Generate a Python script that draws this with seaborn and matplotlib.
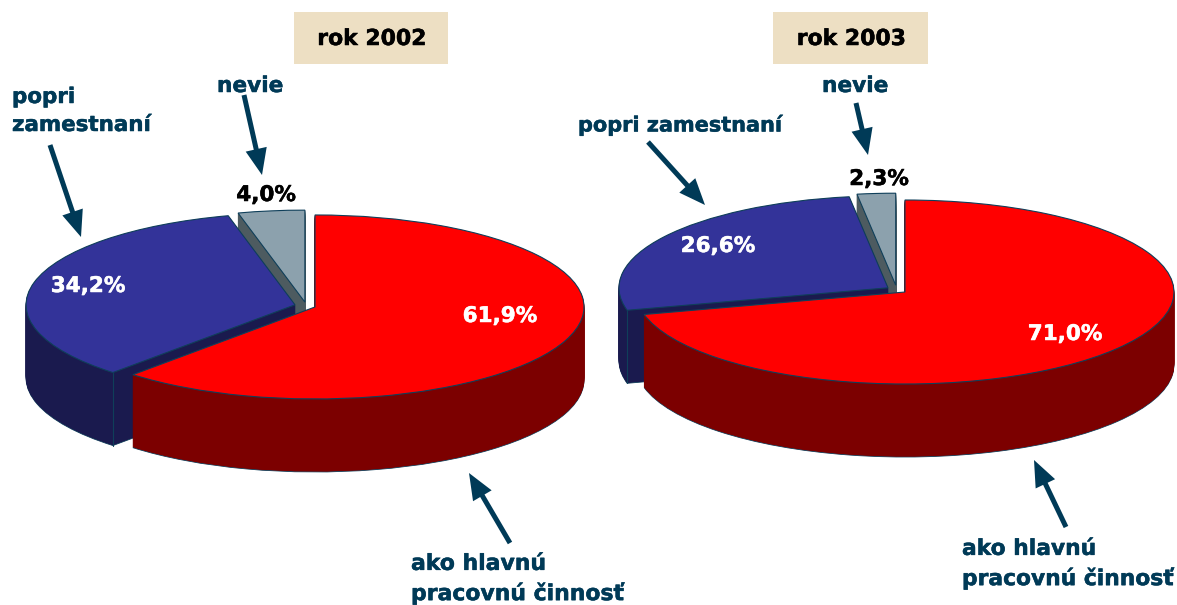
import numpy as np
import matplotlib
matplotlib.use('Agg')
import matplotlib.pyplot as plt
import matplotlib.patheffects as pe
from matplotlib.patches import Rectangle
import seaborn as sns

# share of respondents, red / blue / grey slice
values_2002 = [61.9, 34.2, 4.0]
values_2003 = [71.0, 26.6, 2.3]
labels_2002 = ['61,9%', '34,2%', '4,0%']
labels_2003 = ['71,0%', '26,6%', '2,3%']
years = ['rok 2002', 'rok 2003']

sns.set_theme(style='white')
plt.rcParams['font.family'] = ['DejaVu Sans']

W, H = 1177, 605
top_colors = sns.color_palette(['#ff0000', '#333399', '#8ca1ad'])
side_colors = sns.color_palette(['#7c0000', '#1a1a4e', '#4d5b60'])
EDGE = '#0f3f5a'
INK = '#003a57'
RX, RY = 269, 92   # pixels per unit radius
DEPTH = 73         # pixels


def pie_axes(cx, cy):
    # axes placed so one data unit is RX wide and RY high
    xspan, ytop, ybot = 1.08, 1.2, -2.0
    ax = fig.add_axes([(cx - xspan * RX) / W, (H - cy + ybot * RY) / H,
                       2 * xspan * RX / W, (ytop - ybot) * RY / H])
    ax.set_zorder(1)
    return ax, (-xspan, xspan), (ybot, ytop)


def draw_pie(cx, cy, values, explode):
    ax, xlim, ylim = pie_axes(cx, cy)
    kw = dict(explode=explode, startangle=90, counterclock=False, radius=1)
    # stack of darker pies for the side wall, deepest first
    for px in range(DEPTH, 0, -1):
        layer, _ = ax.pie(values, colors=side_colors, center=(0, -px / RY),
                          wedgeprops=dict(linewidth=0.6), **kw)
        for w, col in zip(layer, side_colors):
            w.set_edgecolor(EDGE if px == DEPTH else col)
    wedges, _ = ax.pie(values, colors=top_colors,
                       wedgeprops=dict(linewidth=0.8, edgecolor=EDGE), **kw)
    # vertical edge at the front corner of the blue slice
    blue = wedges[1]
    ang = np.deg2rad(blue.theta2)
    x = blue.center[0] + np.cos(ang)
    y = blue.center[1] + np.sin(ang)
    ax.plot([x, x], [y, y - DEPTH / RY], color=EDGE, lw=0.8)
    ax.set_aspect('auto')
    ax.set_xlim(*xlim)
    ax.set_ylim(*ylim)


fig = plt.figure(figsize=(W / 100, H / 100), dpi=100)
draw_pie(306.25, 305.8, values_2002, [0.035, 0.043, 0.04])
draw_pie(896.7, 289.8, values_2003, [0.039, 0.039, 0.05])

# overlay in picture pixels for the captions and arrows
over = fig.add_axes([0, 0, 1, 1], zorder=5)
over.set_xlim(0, W)
over.set_ylim(H, 0)
over.axis('off')
over.patch.set_alpha(0)


def heavy(color):
    # the original face is heavier than DejaVu Bold
    return [pe.withStroke(linewidth=0.35, foreground=color)]


for x0, x1, year in zip([294, 773], [448, 928], years):
    over.add_patch(Rectangle((x0, 12), x1 - x0, 52, facecolor='#eddfc3', edgecolor='none'))
    over.text((x0 + x1) / 2 + 1, 39, year, ha='center', va='center', fontsize=15.8,
              fontweight='bold', color='black', path_effects=heavy('black'))

captions = [
    (12, 111, 'popri\nzamestnaní', 15.4),
    (217, 86, 'nevie', 15.6),
    (411, 579, 'ako hlavnú\npracovnú činnosť', 15.8),
    (578, 125, 'popri zamestnaní', 15),
    (822, 86, 'nevie', 15.6),
    (962, 564, 'ako hlavnú\npracovnú činnosť', 15.7),
]
for x, y, txt, size in captions:
    over.text(x, y, txt, ha='left', va='center', fontsize=size, fontweight='bold',
              color=INK, linespacing=1.5, path_effects=heavy(INK))

pct = [
    (500, 316, labels_2002[0], 'white'),
    (88, 286, labels_2002[1], 'white'),
    (266, 195, labels_2002[2], 'black'),
    (1065, 334, labels_2003[0], 'white'),
    (718, 246, labels_2003[1], 'white'),
    (879, 179, labels_2003[2], 'black'),
]
for x, y, txt, col in pct:
    over.text(x, y, txt, ha='center', va='center', fontsize=15.5, fontweight='bold',
              color=col, path_effects=heavy(col))

arrows = [
    ((50, 145), (81, 237)),
    ((244, 95), (262, 175)),
    ((510, 543), (469, 473)),
    ((648, 142), (705, 205)),
    ((856, 103), (868, 155)),
    ((1066, 527), (1034, 460)),
]
for tail, tip in arrows:
    over.annotate('', xy=tip, xytext=tail,
                  arrowprops=dict(facecolor=INK, edgecolor='none', width=3.6,
                                  headwidth=15.5, headlength=19, shrink=0))

fig.savefig('out.png', dpi=100, facecolor='white')
plt.close(fig)
